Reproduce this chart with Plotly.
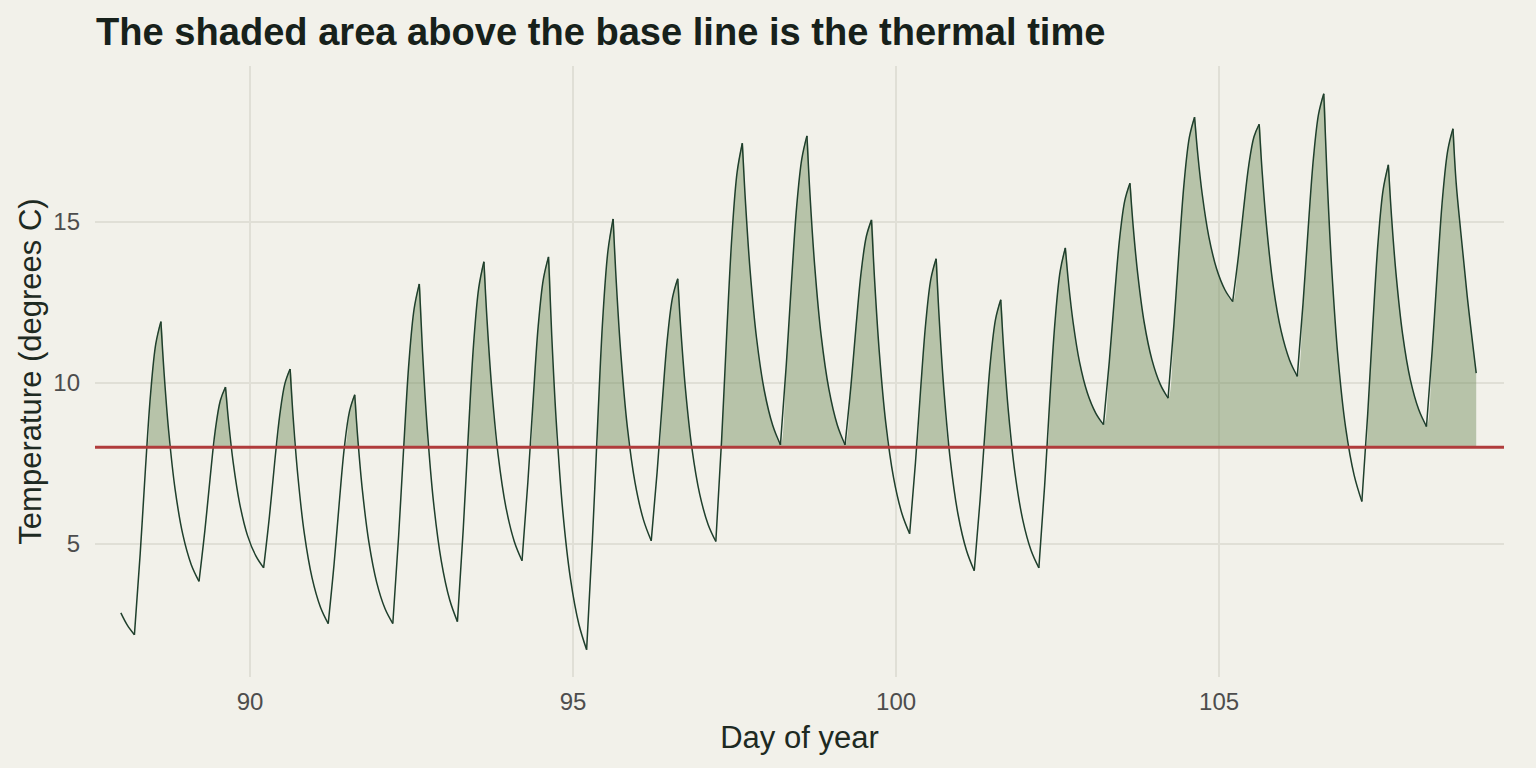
"""
Thermal time chart: temperature curve with the area above the base line shaded.
"""

import plotly.graph_objects as go

# Temperature curve (day of year, degrees C)
day_of_year = [
    88.00, 88.10,
    88.21, 88.30, 88.38, 88.46, 88.54, 88.62, 88.67, 88.74, 88.84, 88.96, 89.09,
    89.21, 89.30, 89.38, 89.46, 89.54, 89.62, 89.67, 89.74, 89.84, 89.96, 90.09,
    90.21, 90.30, 90.38, 90.46, 90.54, 90.62, 90.67, 90.74, 90.84, 90.96, 91.09,
    91.21, 91.30, 91.38, 91.46, 91.54, 91.62, 91.67, 91.74, 91.84, 91.96, 92.09,
    92.21, 92.30, 92.38, 92.46, 92.54, 92.62, 92.67, 92.74, 92.84, 92.96, 93.09,
    93.21, 93.30, 93.38, 93.46, 93.54, 93.62, 93.67, 93.74, 93.84, 93.96, 94.09,
    94.21, 94.30, 94.38, 94.46, 94.54, 94.62, 94.67, 94.74, 94.84, 94.96, 95.09,
    95.21, 95.30, 95.38, 95.46, 95.54, 95.62, 95.67, 95.74, 95.84, 95.96, 96.09,
    96.21, 96.30, 96.38, 96.46, 96.54, 96.62, 96.67, 96.74, 96.84, 96.96, 97.09,
    97.21, 97.30, 97.38, 97.46, 97.54, 97.62, 97.67, 97.74, 97.84, 97.96, 98.09,
    98.21, 98.30, 98.38, 98.46, 98.54, 98.62, 98.67, 98.74, 98.84, 98.96, 99.09,
    99.21, 99.30, 99.38, 99.46, 99.54, 99.62, 99.67, 99.74, 99.84, 99.96, 100.09,
    100.21, 100.30, 100.38, 100.46, 100.54, 100.62, 100.67, 100.74, 100.84, 100.96, 101.09,
    101.21, 101.30, 101.38, 101.46, 101.54, 101.62, 101.67, 101.74, 101.84, 101.96, 102.09,
    102.21, 102.30, 102.38, 102.46, 102.54, 102.62, 102.67, 102.74, 102.84, 102.96, 103.09,
    103.21, 103.30, 103.38, 103.46, 103.54, 103.62, 103.67, 103.74, 103.84, 103.96, 104.09,
    104.21, 104.30, 104.38, 104.46, 104.54, 104.62, 104.67, 104.74, 104.84, 104.96, 105.09,
    105.21, 105.30, 105.38, 105.46, 105.54, 105.62, 105.67, 105.74, 105.84, 105.96, 106.09,
    106.21, 106.30, 106.38, 106.46, 106.54, 106.62, 106.67, 106.74, 106.84, 106.96, 107.09,
    107.21, 107.30, 107.38, 107.46, 107.54, 107.62, 107.67, 107.74, 107.84, 107.96, 108.09,
    108.21, 108.30, 108.38, 108.46, 108.54, 108.62, 108.67, 108.74, 108.84, 108.98,
]

temperature = [
    2.85, 2.47,
    2.17, 4.70, 7.30, 9.65, 11.20, 11.90, 10.29, 8.51, 6.69, 5.28, 4.35,
    3.83, 5.40, 7.00, 8.50, 9.45, 9.87, 8.75, 7.51, 6.24, 5.26, 4.62,
    4.25, 5.85, 7.50, 9.00, 9.98, 10.43, 8.85, 7.11, 5.32, 3.94, 3.03,
    2.52, 4.35, 6.25, 8.00, 9.12, 9.63, 8.21, 6.64, 5.04, 3.80, 2.98,
    2.52, 5.25, 8.05, 10.65, 12.30, 13.07, 10.97, 8.66, 6.29, 4.47, 3.26,
    2.58, 5.45, 8.45, 11.20, 12.95, 13.76, 11.90, 9.86, 7.76, 6.14, 5.07,
    4.47, 6.90, 9.40, 11.75, 13.22, 13.91, 11.47, 8.79, 6.03, 3.91, 2.50,
    1.71, 5.15, 8.70, 12.00, 14.10, 15.09, 13.09, 10.89, 8.63, 6.89, 5.74,
    5.09, 7.20, 9.38, 11.38, 12.65, 13.23, 11.60, 9.80, 7.96, 6.54, 5.60,
    5.07, 8.25, 11.60, 14.60, 16.55, 17.44, 15.57, 13.50, 11.39, 9.76, 8.68,
    8.07, 10.55, 13.10, 15.45, 16.95, 17.67, 15.75, 13.64, 11.47, 9.80, 8.69,
    8.07, 9.88, 11.75, 13.45, 14.55, 15.06, 13.11, 10.96, 8.76, 7.06, 5.94,
    5.31, 7.52, 9.80, 11.88, 13.24, 13.85, 11.91, 9.78, 7.59, 5.90, 4.79,
    4.16, 6.35, 8.60, 10.65, 11.98, 12.58, 10.91, 9.08, 7.20, 5.75, 4.79,
    4.25, 6.82, 9.50, 11.90, 13.47, 14.19, 13.09, 11.88, 10.64, 9.69, 9.06,
    8.70, 10.65, 12.65, 14.48, 15.66, 16.20, 14.86, 13.39, 11.88, 10.72, 9.95,
    9.52, 11.80, 14.12, 16.25, 17.63, 18.25, 17.10, 15.84, 14.55, 13.55, 12.89,
    12.52, 13.95, 15.42, 16.77, 17.64, 18.03, 16.46, 14.74, 12.97, 11.61, 10.71,
    10.20, 12.48, 14.83, 16.97, 18.35, 18.98, 16.45, 13.66, 10.80, 8.59, 7.13,
    6.31, 9.03, 11.82, 14.36, 16.01, 16.77, 15.14, 13.36, 11.52, 10.10, 9.17,
    8.64, 11.05, 13.52, 15.78, 17.23, 17.89, 16.20, 14.70, 12.70, 10.30,
]

base_temperature = 8

x_ticks = [90, 95, 100, 105]
y_ticks = [5, 10, 15]

BG = "#F2F1EA"
GRID = "#E0DFD6"
LINE = "#1F3F2C"
FILL = "rgba(110, 140, 90, 0.45)"
BASE = "#B03C3C"
FONT = "Liberation Sans, Arial, Helvetica, sans-serif"

# Clip the curve at the base line (adding the crossing points) for the shaded area
fill_x, fill_y = [], []
for i, (x, y) in enumerate(zip(day_of_year, temperature)):
    if i > 0:
        x0, y0 = day_of_year[i - 1], temperature[i - 1]
        if (y0 - base_temperature) * (y - base_temperature) < 0:
            xc = x0 + (base_temperature - y0) * (x - x0) / (y - y0)
            fill_x.append(xc)
            fill_y.append(base_temperature)
    fill_x.append(x)
    fill_y.append(max(y, base_temperature))

# Split the line at every turning point so the corners at min / max stay sharp
line_x, line_y = [day_of_year[0]], [temperature[0]]
for i in range(1, len(day_of_year)):
    line_x.append(day_of_year[i])
    line_y.append(temperature[i])
    if 0 < i < len(day_of_year) - 1:
        before = temperature[i] - temperature[i - 1]
        after = temperature[i + 1] - temperature[i]
        if before * after < 0:
            line_x += [None, day_of_year[i]]
            line_y += [None, temperature[i]]

fig = go.Figure()

# invisible base for the fill
fig.add_trace(go.Scatter(
    x=[day_of_year[0], day_of_year[-1]],
    y=[base_temperature, base_temperature],
    mode="lines",
    line=dict(width=0),
    hoverinfo="skip",
    showlegend=False,
))

fig.add_trace(go.Scatter(
    x=fill_x,
    y=fill_y,
    mode="lines",
    line=dict(width=0, shape="spline", smoothing=1),
    fill="tonexty",
    fillcolor=FILL,
    hoverinfo="skip",
    showlegend=False,
))

fig.add_trace(go.Scatter(
    x=line_x,
    y=line_y,
    mode="lines",
    line=dict(color=LINE, width=1.5, shape="spline", smoothing=1),
    connectgaps=False,
    hovertemplate="Day %{x:.2f}<br>%{y:.1f} °C<extra></extra>",
    showlegend=False,
))

# Base line across the whole panel
fig.add_shape(
    type="line",
    xref="paper", x0=0, x1=1,
    yref="y", y0=base_temperature, y1=base_temperature,
    line=dict(color=BASE, width=3),
    layer="above",
)

fig.update_layout(
    title=dict(
        text="<b>The shaded area above the base line is the thermal time</b>",
        x=96 / 1536,
        xanchor="left",
        y=1 - 32 / 768,
        yanchor="middle",
        font=dict(size=38.1, color="#17211B", family=FONT),
    ),
    xaxis=dict(
        title=dict(text="Day of year", font=dict(size=31, color="#1E2A22"), standoff=12),
        range=[87.60, 109.41],
        tickvals=x_ticks,
        showgrid=True,
        gridcolor=GRID,
        gridwidth=2,
        zeroline=False,
        showline=False,
        ticks="",
        ticklabelstandoff=8,
        tickfont=dict(size=24, color="#4D4D4D"),
    ),
    yaxis=dict(
        title=dict(text="Temperature (degrees C)", font=dict(size=31, color="#1E2A22"), standoff=2),
        range=[0.86, 19.84],
        tickvals=y_ticks,
        showgrid=True,
        gridcolor=GRID,
        gridwidth=2,
        zeroline=False,
        showline=False,
        ticks="",
        ticklabelstandoff=14,
        tickfont=dict(size=24, color="#4D4D4D"),
    ),
    font=dict(family=FONT),
    plot_bgcolor=BG,
    paper_bgcolor=BG,
    width=1536,
    height=768,
    margin=dict(l=95, r=32, t=66, b=91),
    showlegend=False,
)

fig.write_html(
    "out.html",
    config={"displayModeBar": False},
    post_script="document.body.style.margin='0';document.body.style.background='%s';" % BG,
)
